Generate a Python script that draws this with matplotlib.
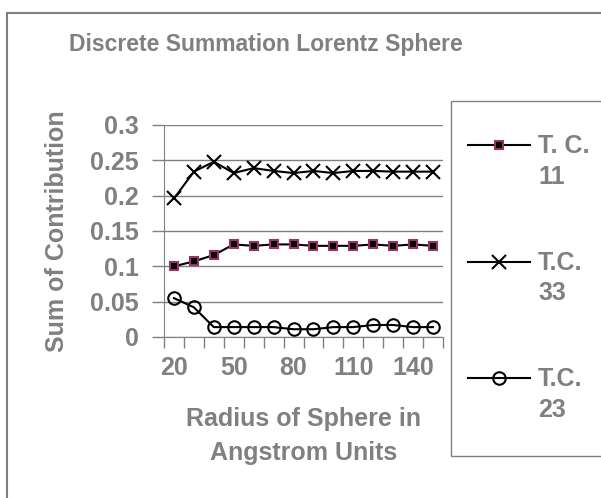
import numpy as np
import matplotlib
matplotlib.use('Agg')
import matplotlib.pyplot as plt
from matplotlib.lines import Line2D
from matplotlib.patches import Rectangle

# radius of sphere (Angstrom), one category per value
radius = [20, 30, 40, 50, 60, 70, 80, 90, 100, 110, 120, 130, 140, 150]
tick_labels = ['20', '50', '80', '110', '140']

tc11 = [0.100, 0.107, 0.116, 0.131, 0.129, 0.131, 0.131, 0.129, 0.129, 0.129, 0.131, 0.129, 0.131, 0.129]
tc33 = [0.196, 0.234, 0.248, 0.232, 0.239, 0.235, 0.232, 0.235, 0.232, 0.235, 0.235, 0.234, 0.234, 0.234]
tc23 = [0.055, 0.042, 0.014, 0.014, 0.014, 0.014, 0.011, 0.011, 0.014, 0.014, 0.017, 0.017, 0.014, 0.014]

plt.rcParams['font.family'] = ['Liberation Sans', 'DejaVu Sans']
plt.rcParams['font.weight'] = 'bold'
gray = '#808080'

W, H = 601, 498
fig = plt.figure(figsize=(W / 100, H / 100), dpi=100)
ax = fig.add_axes([164 / W, 1 - 337 / H, (443 - 164) / W, (337 - 125) / H])

x = np.arange(len(radius))
series = [
    (tc11, dict(marker='s', markersize=6, markerfacecolor='black', markeredgecolor='#993366', markeredgewidth=1.5), 'T. C.\n11'),
    (tc33, dict(marker='x', markersize=10, markeredgecolor='black', markeredgewidth=1.5), 'T.C.\n33'),
    (tc23, dict(marker='o', markersize=9, markerfacecolor='none', markeredgecolor='black', markeredgewidth=1.5), 'T.C.\n23'),
]
for vals, style, lab in series:
    ax.plot(x, vals, color='black', lw=1.5, **style)

ax.set_xlim(-0.5, len(radius) - 0.5)
ax.set_ylim(0, 0.3)
ax.set_yticks(np.arange(0, 0.301, 0.05))
ax.set_yticklabels(['0', '0.05', '0.1', '0.15', '0.2', '0.25', '0.3'])
ax.yaxis.grid(True, color=gray, lw=1)
ax.set_axisbelow(True)

# category boundaries get the tick marks, labels sit on every third category
ax.set_xticks(np.arange(-0.5, len(radius), 1.0))
ax.set_xticklabels([])
ax.set_xticks([radius.index(int(t)) for t in tick_labels], minor=True)
ax.set_xticklabels(tick_labels, minor=True)
ax.tick_params(axis='x', which='major', direction='out', length=8, color=gray, width=1)
ax.tick_params(axis='x', which='minor', length=0, pad=14, labelsize=18, labelcolor=gray)
ax.tick_params(axis='y', direction='out', length=9, color=gray, width=1, pad=9, labelsize=18, labelcolor=gray)

for s in ['top', 'right']:
    ax.spines[s].set_visible(False)
for s in ['left', 'bottom']:
    ax.spines[s].set_color(gray)

ax.set_ylabel('Sum of Contribution', fontsize=18, color=gray, fontweight='bold', labelpad=15)
ax.set_xlabel('Radius of Sphere in\nAngstrom Units', fontsize=18, color=gray, fontweight='bold',
              labelpad=19, linespacing=1.55)

fig.text(266 / W, 1 - 45 / H, 'Discrete Summation Lorentz Sphere', ha='center', va='center',
         fontsize=16.5, color=gray, fontweight='bold')

# chart frame (only left/top visible) and legend box
fig.add_artist(Rectangle((7 / W, -0.1), 1.2, 1 - 13 / H + 0.1, transform=fig.transFigure,
                         fill=False, edgecolor=gray, lw=1.5))
fig.add_artist(Rectangle((451 / W, 1 - 456 / H), 1.2, (456 - 101) / H, transform=fig.transFigure,
                         fill=False, edgecolor=gray, lw=1))

# legend entries
for i, (vals, style, lab) in enumerate(series):
    yy = 1 - (145 + 116.5 * i) / H
    fig.add_artist(Line2D([468 / W, 530 / W], [yy, yy], transform=fig.transFigure, color='black', lw=1.5))
    fig.add_artist(Line2D([499 / W], [yy], transform=fig.transFigure, color='black', lw=0, **style))
    fig.text(538 / W, yy + 11 / H, lab, ha='left', va='top', fontsize=18, color=gray,
             fontweight='bold', linespacing=1.35)

fig.savefig('out.png', dpi=100)
